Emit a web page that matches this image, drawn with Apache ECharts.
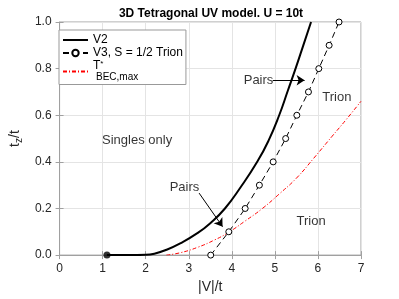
<!DOCTYPE html>
<html>
<head>
<meta charset="utf-8">
<script src="https://cdn.jsdelivr.net/npm/echarts@6/dist/echarts.min.js"></script>
<style>html,body{margin:0;padding:0;background:#fff}#c{width:399px;height:299px}</style>
</head>
<body>
<div id="c"></div>
<script>
// V2 boundary (|V|/t, t_z/t)
var v2X = [1.1, 1.6, 2.0, 2.2, 2.5, 2.8, 3.2, 3.5, 3.84, 4.2, 4.59, 4.85, 5.1, 5.3, 5.48, 5.66, 5.84];
var v2Y = [0, 0, 0.001, 0.006, 0.024, 0.05, 0.094, 0.137, 0.2, 0.29, 0.4, 0.49, 0.6, 0.705, 0.8, 0.9, 1.0];
// V3, S = 1/2 Trion
var v3X = [3.51, 3.93, 4.31, 4.64, 4.96, 5.25, 5.51, 5.78, 6.02, 6.26, 6.49];
var v3Y = [0.0, 0.1, 0.2, 0.3, 0.4, 0.5, 0.6, 0.7, 0.8, 0.9, 1.0];
// T*_BEC,max
var tbX = [2.48, 2.8, 3.2, 3.6, 3.92, 4.3, 4.71, 5.1, 5.5, 5.9, 6.33, 6.65, 7.0];
var tbY = [0, 0.01, 0.033, 0.065, 0.097, 0.145, 0.2, 0.262, 0.33, 0.415, 0.51, 0.58, 0.66];
// start dot of V2
var dotX = [1.1];
var dotY = [0];
// text annotations
var noteText = ['Singles only', 'Pairs', 'Pairs', 'Trion', 'Trion'];
var noteX = [1.80, 2.90, 4.62, 6.44, 5.84];
var noteY = [0.49, 0.29, 0.75, 0.678, 0.143];
// arrows
var arrowFrom = [[3.24, 0.266], [4.95, 0.75]];
var arrowTo = [[3.785, 0.122], [5.69, 0.75]];
var xTicks = [0, 1, 2, 3, 4, 5, 6, 7];
var yTicks = [0.0, 0.2, 0.4, 0.6, 0.8, 1.0];

function zip(a, b) { return a.map(function (v, i) { return [v, b[i]]; }); }

var FONT = 'Liberation Sans';
var AX = '#a0a0a0';
var chart = echarts.init(document.getElementById('c'));
var axisCommon = {
  axisLine: { show: true, lineStyle: { color: AX, width: 1 } },
  axisTick: { show: true, inside: true, length: 4, lineStyle: { color: AX } },
  splitLine: { show: true, lineStyle: { color: '#e4e4e4', width: 1 } }
};
chart.setOption({
  animation: false,
  title: {
    text: '3D Tetragonal UV model. U = 10t',
    left: 206, top: 3, textAlign: 'center',
    textStyle: { fontFamily: FONT, fontSize: 12, fontWeight: 'bold', color: '#000' }
  },
  grid: { left: 52, right: 38, top: 22, bottom: 40, show: true, borderColor: AX, borderWidth: 1 },
  legend: {
    orient: 'vertical', left: 59, top: 30,
    data: [
      { name: 'V2', itemStyle: { opacity: 0 } },
      { name: 'V3' },
      { name: 'TB', itemStyle: { opacity: 0 } }
    ],
    backgroundColor: '#fff', borderColor: '#999', borderWidth: 1, borderRadius: 0,
    padding: [4, 3, 2, 3], itemGap: 1, itemWidth: 25, itemHeight: 8,
    formatter: function (n) {
      if (n === 'V2') return 'V2';
      if (n === 'V3') return 'V3, S = 1/2 Trion';
      return '{t|T}{sup|*}\n{sub|BEC,max}';
    },
    textStyle: {
      fontFamily: FONT, fontSize: 12, color: '#000',
      rich: {
        t: { fontFamily: FONT, fontSize: 12, lineHeight: 12, color: '#000' },
        sup: { fontFamily: FONT, fontSize: 8, lineHeight: 12, color: '#000', verticalAlign: 'top' },
        sub: { fontFamily: FONT, fontSize: 10, lineHeight: 11, color: '#000', padding: [0, 0, 0, 3] }
      }
    }
  },
  xAxis: [Object.assign({
    type: 'value', min: 0, max: 7, interval: 1,
    name: '|V|/t', nameLocation: 'middle', nameGap: 23,
    nameTextStyle: { fontFamily: FONT, fontSize: 14, color: '#262626' },
    axisLabel: { fontFamily: FONT, fontSize: 12, color: '#262626', margin: 8 }
  }, axisCommon), {
    type: 'value', position: 'top', min: 0, max: 7, interval: 1,
    axisLine: { show: false }, axisLabel: { show: false }, splitLine: { show: false },
    axisTick: { show: true, inside: true, length: 4, lineStyle: { color: AX } }
  }],
  yAxis: [Object.assign({
    type: 'value', min: 0, max: 1, interval: 0.2,
    name: '{a|t}{b|z}{a|/t}', nameLocation: 'middle', nameGap: 30, nameRotate: 90,
    nameTextStyle: {
      fontFamily: FONT, fontSize: 14, color: '#262626',
      rich: {
        a: { fontFamily: FONT, fontSize: 14, color: '#262626' },
        b: { fontFamily: FONT, fontSize: 10, color: '#262626', padding: [8, 0, 0, 0] }
      }
    },
    axisLabel: { fontFamily: FONT, fontSize: 12, color: '#262626', margin: 8,
      formatter: function (v) { return v.toFixed(1); } }
  }, axisCommon), {
    type: 'value', position: 'right', min: 0, max: 1, interval: 0.2,
    axisLine: { show: false }, axisLabel: { show: false }, splitLine: { show: false },
    axisTick: { show: true, inside: true, length: 4, lineStyle: { color: AX } }
  }],
  series: [
    {
      name: 'V2', type: 'line', data: zip(v2X, v2Y), smooth: 0.5, symbol: 'none',
      lineStyle: { color: '#000', width: 2 }, itemStyle: { color: '#000' }, z: 5
    },
    {
      name: 'V3', type: 'line', data: zip(v3X, v3Y), symbol: 'circle', symbolSize: 6,
      showAllSymbol: true,
      lineStyle: { color: '#000', width: 1, type: [6, 4] },
      itemStyle: { color: '#fff', borderColor: '#000', borderWidth: 1 }, z: 6
    },
    {
      name: 'TB', type: 'line', data: zip(tbX, tbY), smooth: 0.5, symbol: 'none',
      lineStyle: { color: '#ff0000', width: 1, type: [4, 2, 1, 2] },
      itemStyle: { color: '#ff0000' }, z: 4
    },
    {
      name: 'dot', type: 'scatter', data: zip(dotX, dotY), symbolSize: 7,
      itemStyle: { color: '#000' }, z: 7
    },
    {
      name: 'notes', type: 'scatter', symbolSize: 0,
      data: noteX.map(function (x, i) { return { value: [x, noteY[i]], name: noteText[i] }; }),
      label: { show: true, position: 'inside', formatter: '{b}',
        fontFamily: FONT, fontSize: 13, color: '#000' },
      z: 8
    },
    {
      name: 'arrows', type: 'lines', coordinateSystem: 'cartesian2d',
      data: arrowFrom.map(function (p, i) { return { coords: [p, arrowTo[i]] }; }),
      lineStyle: { color: '#000', width: 1, opacity: 1 },
      symbol: ['none', 'arrow'], symbolSize: 8, z: 8
    }
  ]
});
</script>
</body>
</html>
